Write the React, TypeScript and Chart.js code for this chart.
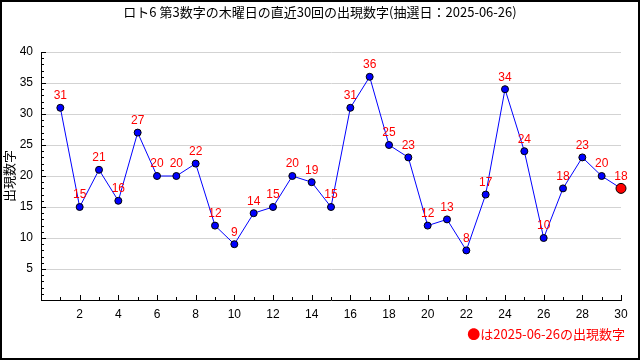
import React, { useEffect, useRef } from "react";
import { Chart, registerables } from "chart.js";

Chart.register(...registerables);

const TITLE = "ロト6 第3数字の木曜日の直近30回の出現数字(抽選日：2025-06-26)";
const Y_TITLE = "出現数字";
const LEGEND_TEXT = "●は2025-06-26の出現数字";
const draws: number[] = [1,2,3,4,5,6,7,8,9,10,11,12,13,14,15,16,17,18,19,20,21,22,23,24,25,26,27,28,29,30];
const values: number[] = [31,15,21,16,27,20,20,22,12,9,14,15,20,19,15,31,36,25,23,12,13,8,17,34,24,10,18,23,20,18];
const Y_MIN = 0, Y_MAX = 40, Y_STEP = 5;
const X_MIN = 0, X_MAX = 30, X_STEP = 2;

const NUM_FONT = "'Liberation Sans', Arial, sans-serif";
const JP_FONT = "'Noto Sans CJK JP', sans-serif";

const decorPlugin = {
  id: "decor",
  beforeDatasetsDraw(chart: any) {
    const { ctx, chartArea, scales } = chart;
    const xs = scales.x, ys = scales.y;
    ctx.save();
    ctx.strokeStyle = "#000";
    ctx.lineWidth = 1;
    ctx.beginPath();
    for (let v = Y_MIN + 1; v <= Y_MAX; v++) {
      const y = Math.round(ys.getPixelForValue(v)) + 0.5;
      const len = v % 5 === 0 ? 5 : 3;
      ctx.moveTo(chartArea.left, y);
      ctx.lineTo(chartArea.left + len, y);
    }
    for (let v = X_MIN + 1; v <= X_MAX; v++) {
      const x = Math.round(xs.getPixelForValue(v)) + 0.5;
      const len = v % 2 === 0 ? 5 : 3;
      ctx.moveTo(x, chartArea.bottom);
      ctx.lineTo(x, chartArea.bottom - len);
    }
    ctx.stroke();
    ctx.restore();
  },
  afterDatasetsDraw(chart: any) {
    const { ctx, chartArea, width, height } = chart;
    const meta = chart.getDatasetMeta(0);
    ctx.save();
    ctx.fillStyle = "#ff0000";
    ctx.font = `12px ${NUM_FONT}`;
    ctx.textAlign = "center";
    ctx.textBaseline = "middle";
    meta.data.forEach((pt: any, i: number) => {
      ctx.fillText(String(values[i]), pt.x, pt.y - 12);
    });
    // title
    ctx.fillStyle = "#000";
    ctx.font = `13px ${JP_FONT}`;
    ctx.fillText(TITLE, width / 2, 12);
    // y title
    ctx.save();
    ctx.translate(9, (chartArea.top + chartArea.bottom) / 2);
    ctx.rotate(-Math.PI / 2);
    ctx.font = `13px ${JP_FONT}`;
    ctx.fillText(Y_TITLE, 0, 0);
    ctx.restore();
    // legend
    ctx.fillStyle = "#ff0000";
    ctx.font = `13px ${JP_FONT}`;
    ctx.textAlign = "right";
    ctx.fillText(LEGEND_TEXT, 625, 334);
    // frame
    ctx.strokeStyle = "#000";
    ctx.lineWidth = 2;
    ctx.strokeRect(1, 1, width - 2, height - 2);
    ctx.restore();
  },
};

export default function App() {
  const ref = useRef<HTMLCanvasElement | null>(null);
  useEffect(() => {
    document.body.style.margin = "0";
    const canvas = ref.current!;
    const pointColors = values.map((_, i) => (i === values.length - 1 ? "#ff0000" : "#0000ff"));
    const pointRadius = values.map((_, i) => (i === values.length - 1 ? 5 : 3.5));
    const chart = new Chart(canvas, {
      type: "line",
      data: {
        datasets: [
          {
            data: draws.map((d, i) => ({ x: d, y: values[i] })),
            borderColor: "#0000ff",
            borderWidth: 1,
            pointBackgroundColor: pointColors,
            pointBorderColor: "#000",
            pointBorderWidth: 1,
            pointRadius: pointRadius,
            tension: 0,
            fill: false,
            clip: false,
          },
        ],
      },
      options: {
        responsive: false,
        animation: false,
        events: [],
        layout: { padding: { left: 0, top: 52, right: 19, bottom: 0 } },
        plugins: { legend: { display: false }, tooltip: { enabled: false }, title: { display: false } },
        scales: {
          x: {
            type: "linear",
            min: X_MIN,
            max: X_MAX,
            afterFit(s: any) {
              s.height = 60;
              s.paddingLeft = 0; s.paddingRight = 0; s.paddingTop = 0; s.paddingBottom = 0;
            },
            ticks: {
              stepSize: X_STEP,
              padding: 7,
              color: "#000",
              font: { family: NUM_FONT, size: 12 },
              maxRotation: 0,
              callback: (v: any) => (v === 0 ? "" : String(v)),
            },
            grid: { display: false, drawTicks: false },
            border: { display: true, color: "#000", width: 1 },
          },
          y: {
            min: Y_MIN,
            max: Y_MAX,
            afterFit(s: any) {
              s.width = 41;
              s.paddingLeft = 0; s.paddingRight = 0; s.paddingTop = 0; s.paddingBottom = 0;
            },
            ticks: {
              stepSize: Y_STEP,
              padding: 8,
              color: "#000",
              font: { family: NUM_FONT, size: 12 },
              callback: (v: any) => (v === 0 ? "" : String(v)),
            },
            grid: {
              drawTicks: false,
              color: (c: any) => (c.tick && c.tick.value === 0 ? "rgba(0,0,0,0)" : "#d3d3d3"),
              lineWidth: 1,
            },
            border: { display: true, color: "#000", width: 1 },
          },
        },
      },
      plugins: [decorPlugin],
    } as any);
    return () => chart.destroy();
  }, []);
  return (
    <div style={{ position: "absolute", left: 0, top: 0, width: 640, height: 360, background: "#fff" }}>
      <canvas ref={ref} width={640} height={360} style={{ display: "block" }} />
    </div>
  );
}
